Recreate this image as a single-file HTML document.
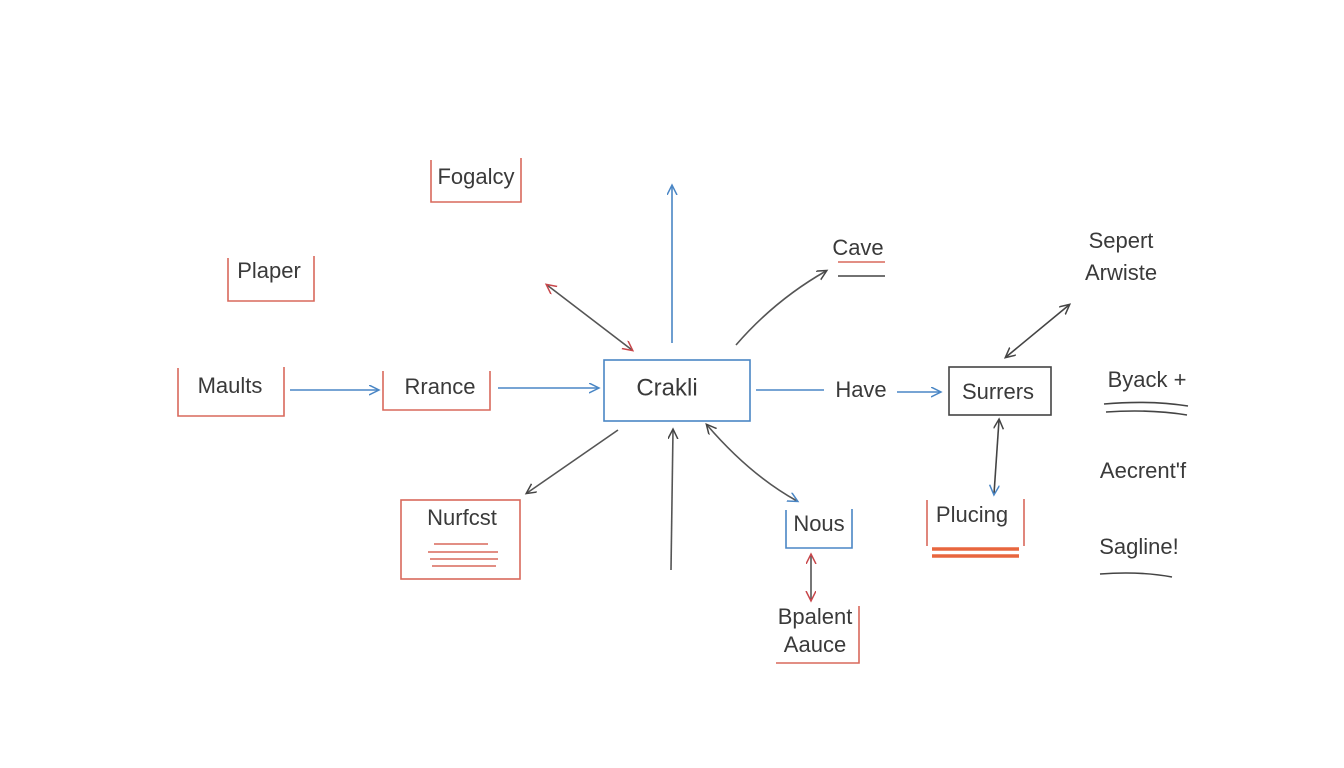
<!DOCTYPE html>
<html><head><meta charset="utf-8"><style>
html,body{margin:0;padding:0;background:#fff;}
svg{display:block}
text{font-family:"Liberation Sans",sans-serif;font-size:22px;fill:#3a3a3a;text-anchor:middle;dominant-baseline:middle}
</style></head><body>
<svg width="1344" height="768" viewBox="0 0 1344 768" xmlns="http://www.w3.org/2000/svg">
<defs>
<marker id="ab" markerWidth="12" markerHeight="12" refX="9" refY="5" orient="auto-start-reverse" markerUnits="userSpaceOnUse"><path d="M0,0 L10,5 L0,10" fill="none" stroke="#4a86c5" stroke-width="1.5"/></marker>
<marker id="ag" markerWidth="12" markerHeight="12" refX="9" refY="5" orient="auto-start-reverse" markerUnits="userSpaceOnUse"><path d="M0,0 L10,5 L0,10" fill="none" stroke="#444" stroke-width="1.5"/></marker>
<marker id="ar" markerWidth="12" markerHeight="12" refX="9" refY="5" orient="auto-start-reverse" markerUnits="userSpaceOnUse"><path d="M0,0 L10,5 L0,10" fill="none" stroke="#c8474b" stroke-width="1.5"/></marker>
</defs>
<g fill="none" stroke-width="1.6">
<!-- open red boxes -->
<path d="M431,160 V202 H521 V158" stroke="#d9695c"/>
<path d="M228,258 V301 H314 V256" stroke="#d9695c"/>
<path d="M178,368 V416 H284 V367" stroke="#d9695c"/>
<path d="M383,371 V410 H490 V371" stroke="#d9695c"/>
<rect x="604" y="360" width="146" height="61" stroke="#4a86c5"/>
<rect x="401" y="500" width="119" height="79" stroke="#d9695c"/>
<path d="M434,544 H488 M428,552 H498 M430,559 H498 M432,566 H496" stroke="#d9695c"/>
<rect x="949" y="367" width="102" height="48" stroke="#444"/>
<path d="M786,510 V548 H852 V509" stroke="#4a86c5"/>
<path d="M927,500 V546 M1024,499 V546" stroke="#d9695c"/>
<path d="M932,549 H1019 M932,556 H1019" stroke="#e8663e" stroke-width="3.5"/>
<path d="M859,606 V663 H776" stroke="#d9695c"/>
<path d="M838,262 H885" stroke="#d9695c"/>
<path d="M838,276 H885" stroke="#444"/>
<path d="M1104,404 Q1150,400 1188,406 M1106,412 Q1150,409 1187,415" stroke="#444"/>
<path d="M1100,574 Q1140,571 1172,577" stroke="#444"/>
<!-- arrows -->
<path d="M290,390 H378" stroke="#4a86c5" marker-end="url(#ab)"/>
<path d="M498,388 H598" stroke="#4a86c5" marker-end="url(#ab)"/>
<path d="M672,343 V186" stroke="#4a86c5" marker-end="url(#ab)"/>
<path d="M547,285 L632,350" stroke="#555" marker-start="url(#ar)" marker-end="url(#ar)"/>
<path d="M618,430 L527,493" stroke="#555" marker-end="url(#ag)"/>
<path d="M671,570 L673,430" stroke="#555" marker-end="url(#ag)"/>
<path d="M707,425 Q750,475 797,501" stroke="#555" marker-start="url(#ag)" marker-end="url(#ab)"/>
<path d="M736,345 Q775,300 826,271" stroke="#555" marker-end="url(#ag)"/>
<path d="M756,390 H824" stroke="#4a86c5"/>
<path d="M897,392 H940" stroke="#4a86c5" marker-end="url(#ab)"/>
<path d="M1006,357 L1069,305" stroke="#444" marker-start="url(#ag)" marker-end="url(#ag)"/>
<path d="M999,420 L994,494" stroke="#444" marker-start="url(#ag)" marker-end="url(#ab)"/>
<path d="M811,555 V600" stroke="#555" marker-start="url(#ar)" marker-end="url(#ar)"/>
</g>
<text x="476" y="178">Fogalcy</text>
<text x="269" y="272">Plaper</text>
<text x="230" y="387">Maults</text>
<text x="440" y="388">Rrance</text>
<text x="667" y="389" style="font-size:24px">Crakli</text>
<text x="462" y="519">Nurfcst</text>
<text x="858" y="249">Cave</text>
<text x="861" y="391">Have</text>
<text x="998" y="393">Surrers</text>
<text x="1121" y="242">Sepert</text>
<text x="1121" y="274">Arwiste</text>
<text x="1147" y="381">Byack +</text>
<text x="1143" y="472">Aecrent'f</text>
<text x="1139" y="548">Sagline!</text>
<text x="819" y="525">Nous</text>
<text x="972" y="516">Plucing</text>
<text x="815" y="618">Bpalent</text>
<text x="815" y="646">Aauce</text>
</svg>
</body></html>
